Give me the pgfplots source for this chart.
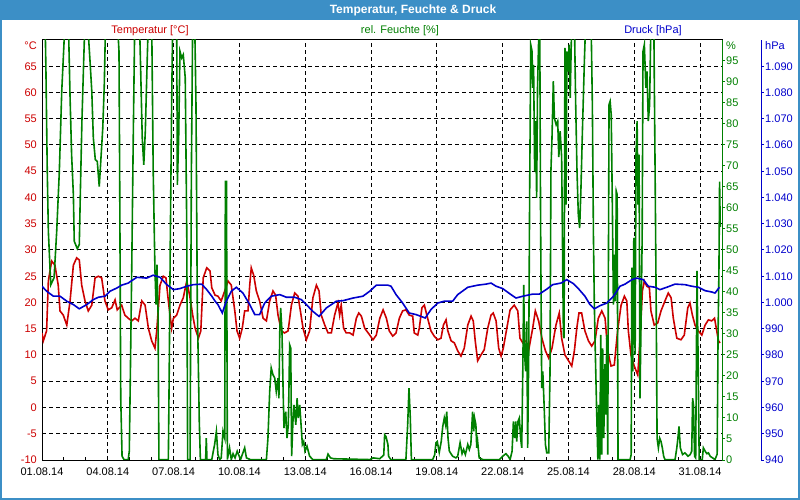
\documentclass[border=0pt]{standalone}
\usepackage{fontspec}
\setmainfont{Liberation Sans}
\usepackage{pgfplots}
\usepackage{pgfplotstable}
\pgfplotsset{compat=1.18}
\definecolor{titleblue}{RGB}{60,143,198}
\definecolor{tred}{RGB}{204,0,0}
\definecolor{tgreen}{RGB}{0,128,0}
\definecolor{tblue}{RGB}{0,0,204}

\pgfplotstableread{
d T
0 14.2
0.06 12.7
0.21 14.6
0.29 24.1
0.44 27.9
0.59 27.1
0.74 23.3
0.82 18.4
0.97 17.6
1.13 15.7
1.28 20.3
1.43 27.1
1.58 28.5
1.70 28.1
1.81 23.3
1.96 20.3
2.11 18.4
2.27 19.5
2.42 24.7
2.57 25.0
2.72 24.7
2.87 20.3
3.02 18.6
3.18 19.0
3.33 20.5
3.43 18.6
3.63 19.5
3.78 17.6
3.93 17.0
4.09 16.5
4.24 17.0
4.39 16.5
4.55 20.3
4.70 19.5
4.85 15.1
5.00 12.7
5.15 11.3
5.23 14.6
5.38 23.3
5.53 25.0
5.65 24.7
5.76 20.3
5.91 15.1
5.99 17.0
6.14 17.6
6.29 19.5
6.44 20.9
6.60 24.1
6.75 20.9
6.87 17.6
6.98 15.1
7.13 13.2
7.24 14.6
7.35 24.7
7.51 26.6
7.66 26.0
7.74 22.8
7.89 21.4
8.02 21.2
8.17 20.3
8.33 22.2
8.48 24.1
8.63 23.3
8.79 18.4
8.89 14.6
9.01 13.2
9.13 15.1
9.24 18.4
9.39 18.4
9.47 23.3
9.54 26.6
9.65 25.2
9.77 22.2
9.92 20.3
10.08 17.0
10.23 16.5
10.38 20.3
10.53 22.2
10.65 21.4
10.76 17.6
10.91 14.6
11.06 14.2
11.22 14.6
11.37 19.5
11.52 21.8
11.67 21.2
11.78 18.4
11.90 15.1
12.05 12.9
12.20 14.6
12.35 20.9
12.51 23.3
12.63 22.2
12.73 17.6
12.89 15.7
13.04 14.2
13.19 14.2
13.34 17.6
13.49 19.9
13.57 17.6
13.64 19.5
13.75 15.1
13.87 14.2
14.03 14.2
14.18 13.8
14.33 17.0
14.44 18.0
14.56 17.4
14.71 15.1
14.94 13.8
15.09 12.9
15.24 13.8
15.40 17.0
15.55 18.6
15.70 17.0
15.83 14.6
15.99 13.6
16.14 14.2
16.29 17.0
16.44 18.4
16.59 18.6
16.74 17.6
16.90 17.4
16.97 14.2
17.13 13.8
17.20 15.1
17.32 19.0
17.43 19.5
17.58 17.0
17.73 14.6
17.88 13.6
18.04 12.9
18.19 13.2
18.30 15.7
18.42 16.7
18.50 14.6
18.65 12.7
18.80 12.3
18.95 10.8
19.10 9.8
19.25 11.3
19.41 15.7
19.56 17.4
19.66 16.5
19.75 12.7
19.86 8.9
20.01 10.0
20.16 11.0
20.32 15.1
20.47 17.6
20.57 18.0
20.70 16.5
20.82 11.3
20.93 9.8
21.03 11.3
21.19 15.1
21.34 18.6
21.53 19.5
21.69 18.4
21.79 13.2
21.92 12.3
22.07 12.7
22.19 11.0
22.37 15.1
22.49 18.4
22.64 16.5
22.79 13.2
22.95 10.8
23.10 9.4
23.25 11.3
23.43 15.7
23.58 18.0
23.69 13.2
23.84 10.0
23.99 9.0
24.15 7.9
24.27 10.8
24.38 15.1
24.48 18.0
24.60 18.0
24.75 14.6
24.91 12.7
25.06 11.7
25.21 12.7
25.36 17.0
25.52 18.4
25.67 17.0
25.79 10.8
25.94 7.9
26.09 8.1
26.24 14.6
26.40 19.5
26.55 21.2
26.66 20.3
26.73 14.6
26.85 10.0
27.00 7.9
27.16 6.2
27.26 12.7
27.37 22.2
27.46 24.1
27.57 23.1
27.69 22.8
27.76 18.4
27.91 15.7
28.07 16.1
28.22 18.4
28.40 20.3
28.55 21.8
28.68 20.9
28.78 17.0
28.94 13.2
29.13 12.9
29.28 13.8
29.44 19.0
29.54 19.9
29.65 17.6
29.77 15.7
29.92 14.6
30.08 13.8
30.23 15.7
30.38 16.7
30.53 16.5
30.66 17.0
30.76 14.6
30.84 12.7
30.91 12.3
}\temptable

\pgfplotstableread{
d P
0 1006.2
0.21 1004.3
0.52 1002.4
0.82 1002.4
1.13 1000.5
1.43 999.2
1.70 997.6
2.04 999.2
2.34 1001.1
2.57 1002.0
2.87 1002.4
3.10 1004.3
3.41 1005.5
3.63 1006.6
3.93 1007.4
4.32 1009.6
4.77 1009.3
5.07 1010.4
5.38 1009.6
5.69 1006.8
5.99 1004.9
6.29 1005.3
6.60 1006.2
6.90 1006.8
7.28 1007.0
7.51 1004.9
7.74 1002.4
7.89 1000.5
8.02 999.2
8.22 996.0
8.40 1000.5
8.63 1004.3
8.86 1005.8
9.16 1003.6
9.47 999.2
9.70 995.4
9.92 995.4
10.15 999.8
10.45 1002.4
10.84 1003.0
11.14 1002.0
11.52 1002.0
11.82 1001.1
12.05 999.2
12.35 996.6
12.63 994.7
12.96 997.9
13.42 1000.5
13.72 1000.7
14.18 1001.7
14.63 1002.4
14.94 1004.3
15.24 1006.6
15.77 1006.6
15.91 1006.2
16.14 1003.0
16.44 999.8
16.74 996.0
17.05 995.4
17.28 994.7
17.47 994.1
17.73 997.3
18.04 999.8
18.34 1000.5
18.72 1000.5
18.95 1003.0
19.41 1005.8
19.86 1006.6
20.24 1007.0
20.47 1007.4
20.70 1006.2
21.00 1005.3
21.38 1003.0
21.61 1001.7
21.92 1002.4
22.37 1003.2
22.67 1003.2
22.98 1004.9
23.28 1006.8
23.66 1007.4
23.92 1008.7
24.22 1007.2
24.45 1005.3
24.75 1002.4
24.98 999.2
25.18 997.6
25.44 998.8
25.75 999.8
26.05 1002.4
26.35 1006.2
26.58 1007.0
26.89 1008.7
27.11 1009.3
27.41 1008.7
27.64 1006.2
27.95 1005.8
28.17 1004.9
28.48 1005.8
28.86 1007.0
29.31 1006.8
29.62 1006.2
29.92 1005.8
30.23 1004.5
30.53 1004.0
30.68 1003.6
30.88 1005.8
}\prestable

\pgfplotstableread{
d H
0 105
0.14 105
0.18 92.5
0.24 68.7
0.29 54.4
0.40 41.7
0.55 43.4
0.67 54.4
0.79 68.7
0.90 87.8
1.00 98.9
1.05 105
1.20 105
1.28 86.2
1.35 72.7
1.43 63.2
1.47 52.1
1.61 50.3
1.70 51.3
1.75 64.0
1.82 80.7
1.90 94.9
1.96 105
2.07 105
2.19 94.9
2.27 87.8
2.34 76.7
2.43 71.5
2.52 71.1
2.61 65.1
2.67 70.3
2.77 79.0
2.84 89.4
2.90 105
3.43 105
3.51 97.3
3.54 68.7
3.59 14.7
3.65 0.9
3.74 0.1
3.93 0.1
3.98 2.1
4.03 21.1
4.09 45.0
4.16 76.7
4.23 105
4.44 105
4.50 92.5
4.57 76.7
4.64 70.3
4.71 78.3
4.79 94.1
4.85 105
5.00 105
5.07 68.7
5.15 45.0
5.20 37.0
5.24 46.5
5.29 35.5
5.33 0.1
5.76 0.1
5.80 21.1
5.85 52.9
5.91 84.6
5.96 105
6.14 105
6.17 65.5
6.23 76.7
6.29 97.3
6.37 95.7
6.44 96.5
6.53 91.0
6.60 54.4
6.64 0.1
6.75 0.1
6.81 68.7
6.87 105
6.96 105
7.02 84.6
7.08 37.0
7.17 9.2
7.22 0.1
7.46 0.1
7.49 5.2
7.52 0.1
7.74 0.1
7.81 2.1
7.87 3.7
7.95 6.8
8.02 1.3
8.10 0.1
8.17 0.5
8.25 6.8
8.33 5.2
8.36 66.3
8.41 66.3
8.45 0.1
8.55 2.9
8.63 0.1
8.71 1.5
8.80 0.5
8.90 2.1
9.05 0.1
9.24 2.9
9.32 0.5
9.50 0.1
10.23 0.1
10.30 5.2
10.38 16.3
10.45 21.9
10.53 20.3
10.61 19.5
10.68 16.3
10.76 19.5
10.80 14.7
10.84 30.6
10.88 36.2
10.94 30.6
10.99 17.1
11.03 7.6
11.11 11.5
11.17 5.2
11.23 8.4
11.29 27.4
11.34 26.6
11.38 0.9
11.44 9.2
11.49 13.1
11.57 8.4
11.63 14.7
11.68 10.0
11.75 13.1
11.81 8.4
11.87 3.7
11.93 4.4
11.99 2.1
12.08 3.3
12.20 0.9
12.35 0.1
12.96 0.1
13.04 1.4
13.15 0.5
13.30 0.3
14.94 0.1
15.10 0.5
15.40 0.3
15.58 1.2
15.62 6.0
15.68 5.6
15.77 3.7
15.80 0.9
15.90 0.1
16.59 0.1
16.67 8.4
16.73 17.1
16.79 10.0
16.84 0.1
17.81 0.1
17.90 1.2
17.96 4.1
18.02 4.4
18.11 1.8
18.20 4.4
18.27 8.0
18.34 10.0
18.40 8.4
18.45 11.5
18.51 5.2
18.57 2.1
18.72 0.9
18.87 0.5
18.95 0.9
19.06 4.1
19.15 1.5
19.22 2.5
19.30 1.3
19.41 3.7
19.48 2.5
19.55 3.7
19.63 11.5
19.68 6.8
19.72 10.0
19.78 8.4
19.82 2.9
19.86 4.4
19.93 0.5
20.10 0.1
20.85 0.1
21.00 0.9
21.15 1.5
21.25 0.9
21.34 0.1
21.43 2.1
21.49 9.2
21.55 5.2
21.60 9.2
21.64 4.4
21.70 9.2
21.76 10.0
21.82 5.2
21.87 2.9
21.92 21.9
21.96 41.7
22.00 25.1
22.05 21.1
22.10 33.0
22.14 2.9
22.19 25.9
22.23 62.4
22.28 98.9
22.34 97.3
22.37 88.6
22.41 94.1
22.46 68.7
22.50 80.7
22.55 62.4
22.59 88.6
22.64 99.7
22.69 105
22.73 56.8
22.78 17.1
22.83 21.1
22.89 13.1
22.95 3.7
23.01 1.7
23.10 1.7
23.16 21.1
23.20 68.7
23.25 76.7
23.31 90.2
23.36 81.4
23.44 79.8
23.51 80.7
23.56 72.1
23.62 78.3
23.69 72.1
23.77 29.8
23.80 29.0
23.84 98.1
23.89 60.8
23.93 97.3
23.99 92.5
24.03 98.9
24.08 86.2
24.15 105
24.27 105
24.33 84.6
24.39 68.7
24.45 58.4
24.51 55.2
24.57 64.7
24.64 79.0
24.73 95.7
24.79 105
25.03 105
25.09 84.6
25.14 52.9
25.18 37.0
25.23 24.3
25.29 10.8
25.34 0.1
25.38 13.1
25.43 0.1
25.47 29.8
25.52 1.3
25.56 26.6
25.61 5.2
25.66 22.8
25.70 10.8
25.75 29.8
25.79 1.3
25.85 84.6
25.90 85.4
25.95 82.2
26.00 60.8
26.05 37.0
26.09 48.9
26.14 37.8
26.18 64.0
26.22 63.2
26.26 0.1
26.81 0.1
26.86 1.3
26.89 45.8
26.93 21.1
26.98 52.9
27.04 25.1
27.08 72.7
27.13 80.7
27.17 60.8
27.22 72.7
27.26 14.7
27.31 33.0
27.36 52.9
27.40 97.3
27.46 98.9
27.53 88.6
27.58 92.5
27.64 80.7
27.70 84.6
27.76 105
27.89 105
27.95 68.7
28.00 37.0
28.04 5.2
28.10 2.9
28.16 5.2
28.22 4.4
28.28 2.9
28.34 0.9
28.40 0.1
28.86 0.1
28.94 2.9
28.99 5.2
29.04 8.0
29.10 2.9
29.20 1.3
29.31 1.7
29.45 0.9
29.55 1.3
29.62 2.1
29.66 14.7
29.70 13.1
29.75 0.9
29.80 0.5
29.86 45.0
29.91 24.3
29.96 0.1
30.10 0.1
30.15 2.9
30.23 2.1
30.31 1.5
30.38 1.7
30.46 0.9
30.57 0.5
30.68 0.1
30.78 1.4
30.82 29.8
30.86 45.0
30.89 66.3
30.92 55.5
}\humtable

\pgfplotsset{
  myaxis/.style={
    scale only axis,
    width=680bp, height=420bp,
    at={(42bp,40bp)}, anchor=south west,
    xmin=0, xmax=31,
    font=\fontsize{11bp}{13bp}\selectfont,
    /pgf/number format/assume math mode=true,
  }
}

\begin{document}
\begin{tikzpicture}
\useasboundingbox (0,0) rectangle (800bp,500bp);
\fill[white] (0,0) rectangle (800bp,500bp);
\fill[titleblue] (0,480bp) rectangle (800bp,500bp);
\draw[titleblue, line width=2bp] (1bp,1bp) rectangle (799bp,499bp);
\node[white, font=\fontsize{12bp}{14bp}\selectfont\bfseries] at (413bp,490bp) {Temperatur, Feuchte \& Druck};

% temperature axis
\begin{axis}[myaxis,
  ymin=-10, ymax=70,
  axis line style={black, line width=1bp},
  xtick={0,3,...,30},
  xticklabels={01.08.14,04.08.14,07.08.14,10.08.14,13.08.14,16.08.14,19.08.14,22.08.14,25.08.14,28.08.14,31.08.14},
  minor x tick num=2,
  xtick pos=left,
  ytick={-10,-5,...,65},
  ytick pos=left,
  yticklabel style={text=tred, anchor=east, inner sep=0pt, xshift=-5bp},
  xticklabel style={text=black, anchor=north, inner sep=0pt, yshift=-8bp},
  tick align=inside,
  major tick length=0pt,
  minor tick length=2.5bp,
  tick style={black, line width=1bp},
  grid=major,
  major grid style={black, line width=1bp, dash pattern=on 4bp off 3bp},
]
\addplot[tred, line width=1.6bp, mark=none] table[x=d, y=T] {\temptable};
\end{axis}

% humidity axis
\begin{axis}[myaxis,
  ymin=0, ymax=100,
  axis x line=none,
  axis y line*=right,
  y axis line style={-, tgreen, line width=1bp},
  ytick={0,5,...,95},
  ytick pos=right,
  yticklabel pos=right,
  tick align=outside,
  major tick length=3bp,
  tick style={tgreen, line width=1bp},
  yticklabel style={text=tgreen, anchor=west, inner sep=0pt, xshift=1bp},
]
\addplot[tgreen, line width=1.6bp, mark=none] table[x=d, y=H] {\humtable};
\end{axis}

% pressure axis (wider, so that its line sits 39bp to the right)
\begin{axis}[myaxis,
  width=719bp, xmax=32.7765,
  ymin=940, ymax=1100,
  axis x line=none,
  axis y line*=right,
  y axis line style={-, tblue, line width=1bp},
  ytick={940,950,...,1090},
  ytick pos=right,
  yticklabel pos=right,
  tick align=outside,
  major tick length=3bp,
  tick style={tblue, line width=1bp},
  yticklabel style={text=tblue, anchor=west, inner sep=0pt, xshift=1bp, /pgf/number format/1000 sep={.}},
]
\addplot[tblue, line width=1.6bp, mark=none] table[x=d, y=P] {\prestable};
\end{axis}

\begin{scope}[font=\fontsize{11bp}{13bp}\selectfont]
\node[tred, anchor=east, inner sep=0pt] at (37bp,454bp) {°C};
\node[tgreen, anchor=west, inner sep=0pt] at (726bp,454bp) {\%};
\node[tblue, anchor=west, inner sep=0pt] at (765bp,454bp) {hPa};
\node[tred] at (150bp,469bp) {Temperatur [°C]};
\node[tgreen] at (400bp,469bp) {rel. Feuchte [\%]};
\node[tblue] at (653bp,469bp) {Druck [hPa]};
\end{scope}
\end{tikzpicture}
\end{document}
